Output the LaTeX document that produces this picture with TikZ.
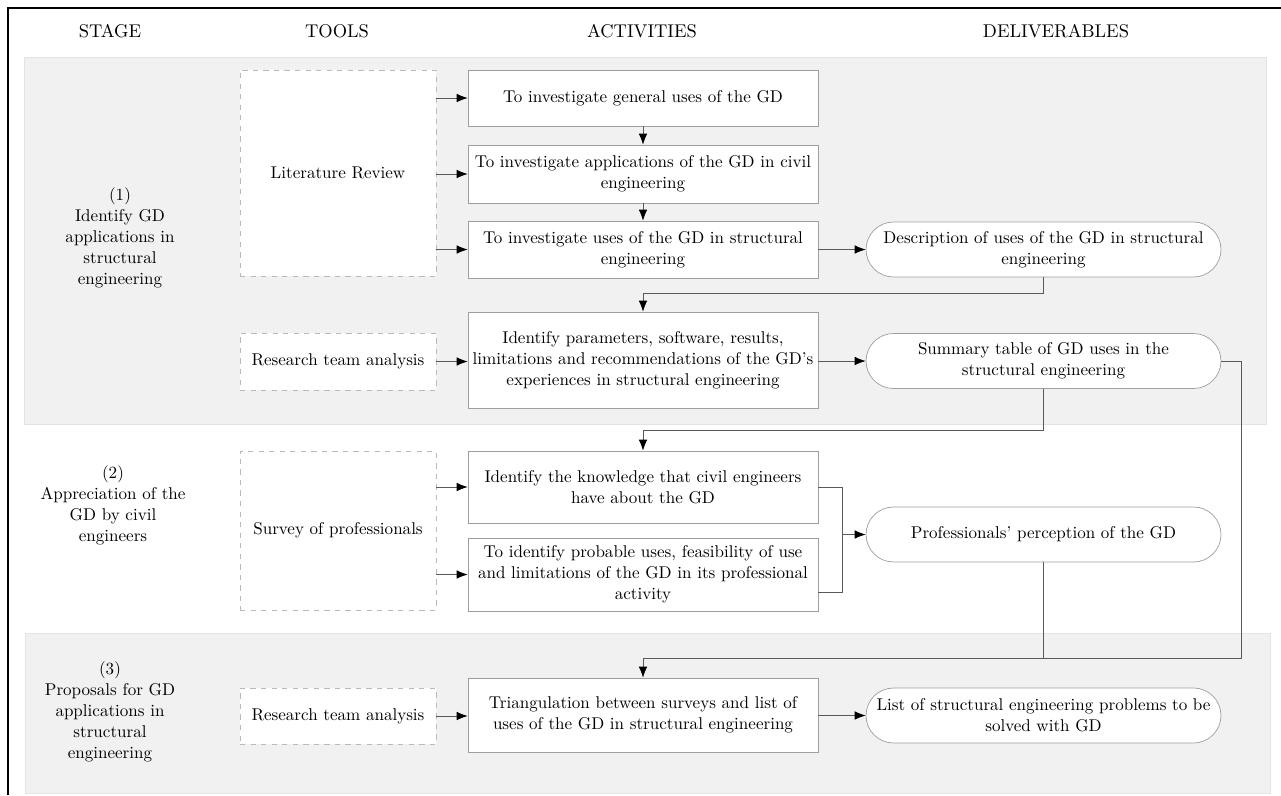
\documentclass[tikz,border=0pt]{standalone}
\usepackage{tikz}
\usetikzlibrary{calc,arrows.meta}

\begin{document}
\begin{tikzpicture}[
  x=0.02cm, y=-0.02cm,
  every node/.style={font=\fontsize{9.7}{12}\selectfont, align=center},
  act/.style={draw=gray!75, fill=white, minimum width=7cm, inner sep=2pt},
  tool/.style={draw=gray!55, dashed, fill=white, minimum width=3.92cm, inner sep=2pt},
  deliv/.style={draw=gray!75, fill=white, rounded corners=0.55cm, minimum width=7.1cm, minimum height=1.1cm, inner sep=2pt},
  head/.style={font=\fontsize{10.5}{12}\selectfont},
  band/.style={fill=gray!11, draw=gray!22},
  link/.style={draw=gray!70!black, -{Latex[length=2.2mm,width=1.7mm,color=black]}},
  wire/.style={draw=gray!70!black}
]
\useasboundingbox (0,0) rectangle (1281,795);
\fill[white] (0,0) rectangle (1281,795);
\draw[band] (24,57) rectangle (1266,424);
\draw[band] (25,633) rectangle (1270,793);
\draw[line width=0.8pt] (8,795) -- (8,8) -- (1281,8);

% headings
\node[head] (hstage) at (110,31) {STAGE};
\node[head] (htools) at (337,31) {TOOLS};
\node[head] (hact) at (642,31) {ACTIVITIES};
\node[head] (hdel) at (1056,31) {DELIVERABLES};

% stages
\node (s1) at (120,238) {(1)\\Identify GD\\applications in\\structural\\engineering};
\node (s2) at (113,505) {(2)\\Appreciation of the\\GD by civil\\engineers};
\node (s3) at (110,712) {(3)\\Proposals for GD\\applications in\\structural\\engineering};

% tools
\node[tool, minimum height=4.12cm] (lit) at (338,173) {Literature Review};
\node[tool, minimum height=1.14cm] (rt1) at (338,361.5) {Research team analysis};
\node[tool, minimum height=3.18cm] (sv) at (338,530.5) {Survey of professionals};
\node[tool, minimum height=1.12cm] (rt3) at (338,716) {Research team analysis};

% activities
\node[act, minimum height=1.12cm] (a1) at (643,98) {To investigate general uses of the GD};
\node[act, minimum height=1.16cm] (a2) at (643,174) {To investigate applications of the GD in civil\\engineering};
\node[act, minimum height=1.14cm] (a3) at (643,249.5) {To investigate uses of the GD in structural\\engineering};
\node[act, minimum height=1.92cm] (a4) at (643,360) {Identify parameters, software, results,\\limitations and recommendations of the GD's\\experiences in structural engineering};
\node[act, minimum height=1.44cm] (a5) at (643,487) {Identify the knowledge that civil engineers\\have about the GD};
\node[act, minimum height=1.46cm] (a6) at (643,574.5) {To identify probable uses, feasibility of use\\and limitations of the GD in its professional\\activity};
\node[act, minimum height=1.48cm] (a7) at (643,715) {Triangulation between surveys and list of\\uses of the GD in structural engineering};

% deliverables
\node[deliv] (d1) at (1043.5,249.5) {Description of uses of the GD in structural\\engineering};
\node[deliv] (d2) at (1043.5,361) {Summary table of GD uses in the\\structural engineering};
\node[deliv] (d3) at (1043.5,534.5) {Professionals' perception of the GD};
\node[deliv] (d4) at (1043.5,715.5) {List of structural engineering problems to be\\solved with GD};

\coordinate (j1) at (0,293);
\coordinate (j2) at (0,430);
\coordinate (j3) at (1241,658);
\coordinate (bk) at (842,592);

\draw[link] (lit.east |- a1.west) -- (a1.west);
\draw[link] (lit.east |- a2.west) -- (a2.west);
\draw[link] (lit.east |- a3.west) -- (a3.west);
\draw[link] (a1) -- (a2);
\draw[link] (a2) -- (a3);
\draw[link] (a3) -- (d1);
\draw[link] (d1.south) -- (d1.south |- j1) -| (a4.north);
\draw[link] (rt1.east) -- (rt1.east -| a4.west);
\draw[link] (a4.east |- d2.west) -- (d2.west);
\draw[link] (d2.south) -- (d2.south |- j2) -| (a5.north);
\draw[link] (d2.east) -| (j3) -| (a7.north);
\draw[wire] (d3.south) -- (d3.south |- j3);
\draw[link] (sv.east |- a5.west) -- (a5.west);
\draw[link] (sv.east |- a6.west) -- (a6.west);
\draw[wire] (a5.east) -| (bk) -- (bk -| a6.east);
\draw[link] (bk |- d3.west) -- (d3.west);
\draw[link] (rt3.east) -- (rt3.east -| a7.west);
\draw[link] (a7.east |- d4.west) -- (d4.west);
\end{tikzpicture}
\end{document}
